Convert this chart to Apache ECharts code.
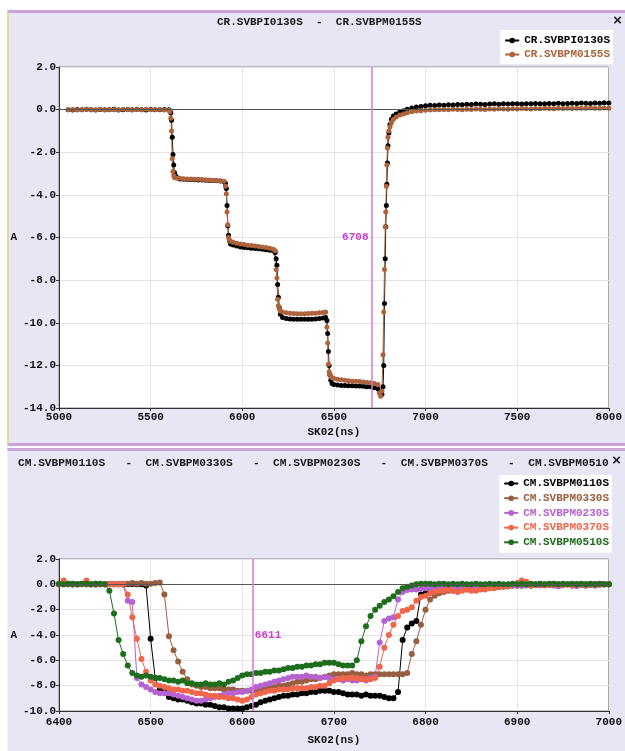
<!DOCTYPE html>
<html>
<head>
<meta charset="utf-8">
<script src="https://cdn.jsdelivr.net/npm/echarts@6/dist/echarts.min.js"></script>
<style>
  html, body { margin: 0; padding: 0; background: #ffffff; }
  #wrap { position: relative; width: 625px; height: 751px; overflow: hidden; }
  .panel { position: absolute; box-sizing: border-box; background: #e6e6f4; }
  #p1 { left: 7px; top: 10px; width: 618px; height: 436px;
        border-top: 3px solid #c9a3d6; border-bottom: 3px solid #c9a3d6; border-left: 2px solid #e4d79c; }
  #p2 { left: 7px; top: 448px; width: 618px; height: 303px;
        border-top: 3px solid #c9a3d6; border-left: 1px solid #f2f2fa; }
  #chart { position: absolute; left: 0; top: 0; width: 625px; height: 751px; }
</style>
</head>
<body>
<div id="wrap">
  <div class="panel" id="p1"></div>
  <div class="panel" id="p2"></div>
  <div id="chart"></div>
</div>
<script>
// ---------------- DATA ----------------
const topTitleText = 'CR.SVBPI0130S  -  CR.SVBPM0155S';
const topNames = ['CR.SVBPI0130S', 'CR.SVBPM0155S'];
const topTime = [
  5050,5075,5100,5125,5150,5175,5200,5225,5250,5275,5300,5325,5350,5375,5400,5425,5450,5475,5500,5525,5550,5575,5600,
  5605,5610,5614,5618,5622,5626,5630,5636,5645,
  5660,5680,5700,5720,5740,5760,5780,5800,5820,5840,5860,5880,5900,
  5908,5913,5917,5921,5925,5930,5936,
  5950,5970,5990,6010,6030,6050,6070,6090,6110,6130,6150,6170,6180,
  6185,6189,6193,6197,6202,6208,
  6220,6240,6260,6280,6300,6320,6340,6360,6380,6400,6420,6440,6455,
  6462,6466,6470,6474,6478,6483,6490,
  6500,6520,6540,6560,6580,6600,6620,6640,6660,6680,6700,6720,6740,
  6748,6755,6762,6768,6772,6776,6780,6783,6786,6789,6792,6795,6800,6806,6814,6825,6840,
  6860,6880,6900,6925,6950,6975,7000,
  7025,7050,7075,7100,7125,7150,7175,7200,7225,7250,7275,7300,7325,7350,7375,7400,7425,7450,7475,7500,
  7525,7550,7575,7600,7625,7650,7675,7700,7725,7750,7775,7800,7825,7850,7875,7900,7925,7950,7975,8000
];
const topSVBPI0130S = [
  0.00,-0.02,0.01,-0.01,0.02,0.00,-0.02,0.01,0.00,-0.01,0.02,-0.02,0.00,0.01,-0.01,0.02,0.00,-0.02,0.01,0.00,-0.01,0.01,0.00,
  -0.05,-0.15,-0.5,-1.3,-2.1,-2.6,-2.95,-3.1,-3.2,
  -3.25,-3.27,-3.28,-3.28,-3.29,-3.30,-3.30,-3.31,-3.32,-3.33,-3.34,-3.35,-3.38,
  -3.45,-3.7,-4.5,-5.45,-5.9,-6.15,-6.3,
  -6.35,-6.40,-6.45,-6.47,-6.48,-6.50,-6.52,-6.53,-6.55,-6.57,-6.60,-6.62,-6.70,
  -7.0,-7.3,-8.2,-8.8,-9.3,-9.6,
  -9.75,-9.80,-9.82,-9.83,-9.83,-9.84,-9.84,-9.84,-9.83,-9.82,-9.80,-9.78,-9.75,
  -9.9,-10.5,-11.35,-12.0,-12.45,-12.7,-12.85,
  -12.90,-12.92,-12.94,-12.95,-12.96,-12.96,-12.97,-12.97,-12.98,-13.00,-13.00,-13.05,-13.10,
  -13.2,-13.3,-13.35,-13.0,-12.0,-9.1,-7.0,-5.5,-4.5,-3.5,-2.5,-1.7,-1.1,-0.7,-0.45,-0.3,-0.2,
  -0.10,-0.05,0.02,0.08,0.12,0.15,0.18,
  0.20,0.19,0.22,0.21,0.23,0.22,0.24,0.23,0.25,0.24,0.26,0.25,0.24,0.26,0.27,0.25,0.27,0.26,0.28,0.27,
  0.26,0.28,0.27,0.29,0.28,0.27,0.29,0.28,0.30,0.28,0.29,0.30,0.29,0.31,0.30,0.29,0.31,0.30,0.32,0.31
];
const topSVBPM0155S = [
  0.00,0.01,-0.02,0.00,0.02,-0.01,0.00,0.02,-0.02,0.01,0.00,-0.01,0.02,0.00,-0.02,0.01,0.00,0.02,-0.01,0.00,0.01,-0.02,-0.03,
  -0.1,-0.4,-1.0,-2.3,-2.9,-3.1,-3.18,-3.2,-3.22,
  -3.22,-3.24,-3.25,-3.26,-3.27,-3.27,-3.28,-3.29,-3.30,-3.31,-3.32,-3.34,-3.36,
  -3.6,-3.95,-4.8,-5.4,-6.0,-6.12,-6.18,
  -6.22,-6.27,-6.30,-6.33,-6.36,-6.38,-6.40,-6.42,-6.44,-6.47,-6.50,-6.55,-6.62,
  -7.5,-7.9,-8.9,-9.2,-9.35,-9.45,
  -9.50,-9.53,-9.55,-9.57,-9.58,-9.58,-9.58,-9.57,-9.56,-9.55,-9.53,-9.52,-9.50,
  -10.2,-10.95,-11.95,-12.3,-12.4,-12.5,-12.58,
  -12.62,-12.65,-12.68,-12.70,-12.72,-12.74,-12.75,-12.76,-12.78,-12.80,-12.82,-12.85,-12.90,
  -13.3,-13.45,-13.2,-11.5,-9.5,-7.5,-5.5,-4.8,-3.6,-2.6,-1.8,-1.3,-1.0,-0.8,-0.6,-0.45,-0.35,
  -0.25,-0.20,-0.15,-0.10,-0.07,-0.05,-0.03,
  -0.02,0.00,-0.01,0.01,0.00,0.02,0.01,0.00,0.02,0.01,0.03,0.02,0.01,0.03,0.02,0.04,0.03,0.02,0.04,0.03,
  0.05,0.04,0.03,0.05,0.04,0.06,0.05,0.04,0.06,0.05,0.07,0.05,0.06,0.07,0.06,0.08,0.07,0.06,0.08,0.07
];
const topCursor = 6708;
const topCursorLabelAt = -6;

const bottomTitleText = 'CM.SVBPM0110S   -  CM.SVBPM0330S   -  CM.SVBPM0230S   -  CM.SVBPM0370S   -  CM.SVBPM0510';
const bottomNames = ['CM.SVBPM0110S', 'CM.SVBPM0330S', 'CM.SVBPM0230S', 'CM.SVBPM0370S', 'CM.SVBPM0510S'];
const bottomTime = [
  6400,6405,6410,6415,6420,6425,6430,6435,6440,6445,
  6450,6455,6460,6465,6470,6475,6480,6485,6490,6495,
  6500,6505,6510,6515,6520,6525,6530,6535,6540,6545,
  6550,6555,6560,6565,6570,6575,6580,6585,6590,6595,
  6600,6605,6610,6615,6620,6625,6630,6635,6640,6645,
  6650,6655,6660,6665,6670,6675,6680,6685,6690,6695,
  6700,6705,6710,6715,6720,6725,6730,6735,6740,6745,
  6750,6755,6760,6765,6770,6775,6780,6785,6790,6795,
  6800,6805,6810,6815,6820,6825,6830,6835,6840,6845,
  6850,6855,6860,6865,6870,6875,6880,6885,6890,6895,
  6900,6905,6910,6915,6920,6925,6930,6935,6940,6945,
  6950,6955,6960,6965,6970,6975,6980,6985,6990,6995,
  7000
];
const SVBPM0110S = [
  0,0.02,0,-0.02,0,0.02,0,0,-0.02,0,
  0,0.02,0,0,-0.02,0,0.02,0,0,-0.1,
  -4.3,-7.4,-8.3,-8.5,-8.9,-9.0,-9.1,-9.1,-9.2,-9.3,
  -9.4,-9.4,-9.5,-9.5,-9.6,-9.7,-9.7,-9.8,-9.8,-9.8,
  -9.8,-9.7,-9.6,-9.5,-9.3,-9.2,-9.1,-9.0,-8.9,-8.8,
  -8.8,-8.7,-8.7,-8.6,-8.6,-8.5,-8.5,-8.4,-8.4,-8.4,
  -8.5,-8.5,-8.6,-8.7,-8.7,-8.7,-8.8,-8.7,-8.8,-8.8,
  -8.8,-8.9,-9.0,-9.0,-8.5,-4.4,-3.4,-3.1,-2.9,-0.8,
  -0.7,-0.6,-0.5,-0.5,-0.4,-0.4,-0.4,-0.45,-0.4,-0.35,
  -0.3,-0.3,-0.3,-0.25,-0.2,-0.2,-0.2,-0.15,-0.15,-0.1,
  -0.1,-0.1,-0.05,-0.1,-0.05,0,-0.05,0,0,-0.05,
  0,0,-0.05,0,0,-0.1,0,0,0,0,
  0
];
const SVBPM0330S = [
  0,0,0.05,0,0,0.05,0,0,0.05,0,
  0,0.05,0,0.05,0.05,0.05,0.1,0.05,0.1,0.05,
  0.05,0.1,0.15,-0.8,-4.1,-5.2,-6.1,-6.9,-7.5,-7.9,
  -8.0,-8.1,-8.1,-8.2,-8.2,-8.2,-8.3,-8.3,-8.3,-8.4,
  -8.4,-8.4,-8.4,-8.3,-8.3,-8.2,-8.1,-8.1,-8.0,-8.0,
  -7.9,-7.8,-7.7,-7.7,-7.6,-7.5,-7.5,-7.4,-7.3,-7.2,
  -7.1,-7.1,-7.1,-7.1,-7.0,-7.1,-7.1,-7.2,-7.1,-7.1,
  -7.1,-7.1,-7.1,-7.1,-7.1,-7.1,-7.0,-5.5,-4.5,-3.2,
  -2.0,-1.2,-0.9,-0.7,-0.6,-0.5,-0.5,-0.45,-0.4,-0.4,
  -0.35,-0.3,-0.3,-0.3,-0.25,-0.2,-0.2,-0.2,-0.15,-0.1,
  -0.1,-0.1,-0.05,-0.1,-0.05,-0.05,0,-0.05,-0.1,0,
  -0.05,0,-0.1,0,-0.05,0,-0.05,-0.1,0,0,
  0
];
const SVBPM0230S = [
  0,0,0,0,0,0,0,0,0,0,
  0,0,0,0,0,-1.3,-1.4,-7.4,-7.9,-8.1,
  -8.3,-8.5,-8.6,-8.6,-8.6,-8.7,-8.8,-8.9,-9.0,-9.1,
  -9.2,-9.2,-9.1,-9.0,-8.9,-8.8,-8.7,-8.6,-8.6,-8.5,
  -8.5,-8.4,-8.3,-8.1,-8.0,-7.9,-7.8,-7.7,-7.6,-7.5,
  -7.4,-7.3,-7.3,-7.3,-7.2,-7.3,-7.3,-7.4,-7.3,-7.4,
  -7.5,-7.5,-7.6,-7.5,-7.6,-7.6,-7.5,-7.6,-7.4,-7.3,
  -4.6,-2.9,-2.7,-2.6,-1.2,-0.6,-0.45,-0.4,-0.4,-0.35,
  -0.3,-0.3,-0.3,-0.3,-0.25,-0.3,-0.25,-0.2,-0.3,-0.2,
  -0.2,-0.2,-0.15,-0.2,-0.1,-0.15,-0.1,-0.15,-0.1,-0.1,
  -0.1,-0.05,-0.1,-0.05,0,-0.1,-0.05,0,-0.1,-0.15,
  -0.05,0,-0.1,-0.15,0,-0.05,0,-0.1,0,0,
  0
];
const SVBPM0370S = [
  0,0.3,0,0,0,0,0.3,0,0,0,
  0,0,0,0,0,-0.8,-2.6,-4.3,-5.9,-6.9,
  -7.6,-7.9,-8.0,-8.1,-8.2,-8.3,-8.3,-8.4,-8.4,-8.5,
  -8.6,-8.6,-8.7,-8.8,-8.8,-8.9,-8.9,-9.0,-9.0,-9.1,
  -9.2,-9.1,-8.9,-8.7,-8.6,-8.5,-8.4,-8.4,-8.3,-8.3,
  -8.3,-8.2,-8.2,-8.2,-8.2,-8.1,-8.1,-8.0,-8.0,-7.8,
  -7.6,-7.5,-7.4,-7.4,-7.4,-7.4,-7.5,-7.5,-7.5,-7.4,
  -6.5,-5.0,-4.0,-3.2,-2.5,-2.1,-2.0,-1.8,-1.3,-1.0,
  -0.9,-0.7,-0.6,-0.5,-0.5,-0.4,-0.5,-0.6,-0.5,-0.4,
  -0.5,-0.5,-0.4,-0.4,-0.3,-0.3,-0.2,-0.2,-0.15,0,
  0.1,0.3,0.2,-0.1,-0.05,0,-0.1,0,-0.05,0,
  -0.05,0,-0.1,0,0,-0.05,0,0,-0.05,0,
  0
];
const SVBPM0510S = [
  0.05,0,0.05,0.05,0,0.05,0.05,0,0.05,0.05,
  0,-0.5,-2.3,-4.4,-5.5,-6.4,-7.0,-7.2,-7.3,-7.2,
  -7.3,-7.4,-7.4,-7.5,-7.6,-7.6,-7.7,-7.6,-7.8,-7.8,
  -7.9,-7.9,-7.8,-7.9,-7.9,-7.8,-7.9,-7.7,-7.6,-7.4,
  -7.2,-7.1,-7.1,-7.0,-7.0,-6.9,-6.9,-6.8,-6.8,-6.7,
  -6.6,-6.6,-6.5,-6.5,-6.4,-6.4,-6.3,-6.3,-6.2,-6.2,
  -6.2,-6.3,-6.4,-6.4,-6.4,-6.0,-4.5,-3.3,-2.5,-2.0,
  -1.7,-1.4,-1.2,-0.95,-0.6,-0.3,-0.2,-0.1,0,0.05,
  0.05,0.05,0,0.05,0.05,0,0.05,0,0.05,0,
  0,0.05,0,0,0.05,0,0.05,0,0,0.05,
  0,0.05,0,0.05,0,0.05,0,0.05,0.05,0,
  0.05,0,0.05,0,0.05,0,0.05,0,0.05,0,
  0
];
const bottomCursor = 6611;
const bottomCursorLabelAt = -4;

const topColors = ['#000000', '#ad633c'];
const bottomColors = ['#000000', '#985e40', '#b662d0', '#ef664b', '#1d6d1d'];

// ---------------- CHART ----------------
const FONT = '"Liberation Mono", "DejaVu Sans Mono", monospace';
const txt = (c, s) => ({ color: c || '#111', fontFamily: FONT, fontWeight: 'bold', fontSize: s || 11 });

function pairs(xs, ys) { return xs.map((x, i) => [x, ys[i]]); }

function lineSeries(name, xs, ys, color, xi, size) {
  return {
    name: name, type: 'line', xAxisIndex: xi, yAxisIndex: xi,
    data: pairs(xs, ys), symbol: 'circle', symbolSize: size, showSymbol: true,
    lineStyle: { color: color, width: 1 }, itemStyle: { color: color },
    emphasis: { disabled: true }, silent: true, z: 3
  };
}

function helper(xi, mlData, mpData, z) {
  return {
    type: 'line', xAxisIndex: xi, yAxisIndex: xi, data: [], silent: true, z: z,
    markLine: { silent: true, symbol: ['none', 'none'], animation: false, label: { show: false }, data: mlData },
    markPoint: mpData ? { silent: true, animation: false, data: mpData } : undefined
  };
}

function xAxisCfg(gi, min, max, interval, gap, margin) {
  return {
    gridIndex: gi, type: 'value', min: min, max: max, interval: interval,
    name: 'SK02(ns)', nameLocation: 'middle', nameGap: gap, nameTextStyle: txt('#111', 11),
    axisLine: { show: true, onZero: false, lineStyle: { color: '#333' } },
    axisTick: { show: true, length: 3, lineStyle: { color: '#333' } },
    axisLabel: Object.assign({ margin: margin, formatter: v => String(v) }, txt('#111', 11)),
    splitLine: { show: true, lineStyle: { color: '#e4e4e4' } }
  };
}
function yAxisCfg(gi, min, max, interval) {
  return {
    gridIndex: gi, type: 'value', min: min, max: max, interval: interval,
    name: 'A', nameLocation: 'middle', nameRotate: 0, nameGap: 40, nameTextStyle: txt('#111', 11),
    axisLine: { show: true, lineStyle: { color: '#333' } },
    axisTick: { show: true, length: 3, lineStyle: { color: '#333' } },
    axisLabel: Object.assign({ margin: 3, formatter: v => v.toFixed(1) }, txt('#111', 11)),
    splitLine: { show: true, lineStyle: { color: '#e4e4e4' } }
  };
}

const cursorColor = '#d57ad8';
const cursorText = '#cc3fcc';

const option = {
  animation: false,
  backgroundColor: 'transparent',
  title: [
    { text: topTitleText, left: 217, top: 17, padding: 0, textStyle: txt('#1a1a1a', 11) },
    { text: '×', left: 613, top: 14, padding: 0, textStyle: txt('#222', 15) },
    { text: bottomTitleText, left: 18, top: 458, padding: 0, textStyle: txt('#1a1a1a', 11.2) },
    { text: '×', left: 612, top: 454, padding: 0, textStyle: txt('#222', 15) }
  ],
  legend: [
    { data: topNames.map((n, i) => ({ name: n, textStyle: { color: topColors[i] } })),
      orient: 'vertical', right: 12, top: 30, backgroundColor: '#ffffff',
      padding: [5, 3, 4, 4], itemGap: 3, itemWidth: 14, itemHeight: 7,
      textStyle: txt(null, 11), selectedMode: false },
    { data: bottomNames.map((n, i) => ({ name: n, textStyle: { color: bottomColors[i] } })),
      orient: 'vertical', right: 13, top: 475, backgroundColor: '#ffffff',
      padding: [3, 3, 5, 4], itemGap: 3.7, itemWidth: 14, itemHeight: 7,
      textStyle: txt(null, 11), selectedMode: false }
  ],
  grid: [
    { left: 59, top: 67, width: 551, height: 341, show: true, backgroundColor: '#ffffff', borderColor: '#8a8a8a', borderWidth: 1 },
    { left: 59, top: 559, width: 551, height: 152, show: true, backgroundColor: '#ffffff', borderColor: '#8a8a8a', borderWidth: 1 }
  ],
  xAxis: [ xAxisCfg(0, 5000, 8000, 500, 19, 4), xAxisCfg(1, 6400, 7000, 100, 24, 6) ],
  yAxis: [ yAxisCfg(0, -14, 2, 2), yAxisCfg(1, -10, 2, 2) ],
  series: [
    helper(0, [{ yAxis: 0, lineStyle: { color: '#555', width: 1, type: 'solid' } }], null, 1),
    lineSeries(topNames[0], topTime, topSVBPI0130S, topColors[0], 0, 5),
    lineSeries(topNames[1], topTime, topSVBPM0155S, topColors[1], 0, 5),
    helper(0, [{ xAxis: topCursor, lineStyle: { color: cursorColor, width: 1.5, type: 'solid' } }],
      [{ coord: [topCursor, topCursorLabelAt], value: topCursor, symbol: 'rect', symbolSize: 1,
         itemStyle: { color: 'rgba(0,0,0,0)' },
         label: Object.assign({ show: true, position: 'left', distance: 3, formatter: String(topCursor) }, txt(cursorText, 11)) }], 5),

    helper(1, [{ yAxis: 0, lineStyle: { color: '#555', width: 1, type: 'solid' } }], null, 1),
    lineSeries(bottomNames[0], bottomTime, SVBPM0110S, bottomColors[0], 1, 6),
    lineSeries(bottomNames[1], bottomTime, SVBPM0330S, bottomColors[1], 1, 6),
    lineSeries(bottomNames[2], bottomTime, SVBPM0230S, bottomColors[2], 1, 6),
    lineSeries(bottomNames[3], bottomTime, SVBPM0370S, bottomColors[3], 1, 6),
    lineSeries(bottomNames[4], bottomTime, SVBPM0510S, bottomColors[4], 1, 6),
    helper(1, [{ xAxis: bottomCursor, lineStyle: { color: cursorColor, width: 1.5, type: 'solid' } }],
      [{ coord: [bottomCursor, bottomCursorLabelAt], value: bottomCursor, symbol: 'rect', symbolSize: 1,
         itemStyle: { color: 'rgba(0,0,0,0)' },
         label: Object.assign({ show: true, position: 'right', distance: 2, formatter: String(bottomCursor) }, txt(cursorText, 11)) }], 5)
  ]
};

const chart = echarts.init(document.getElementById('chart'), null, { renderer: 'canvas' });
chart.setOption(option);
</script>
</body>
</html>
